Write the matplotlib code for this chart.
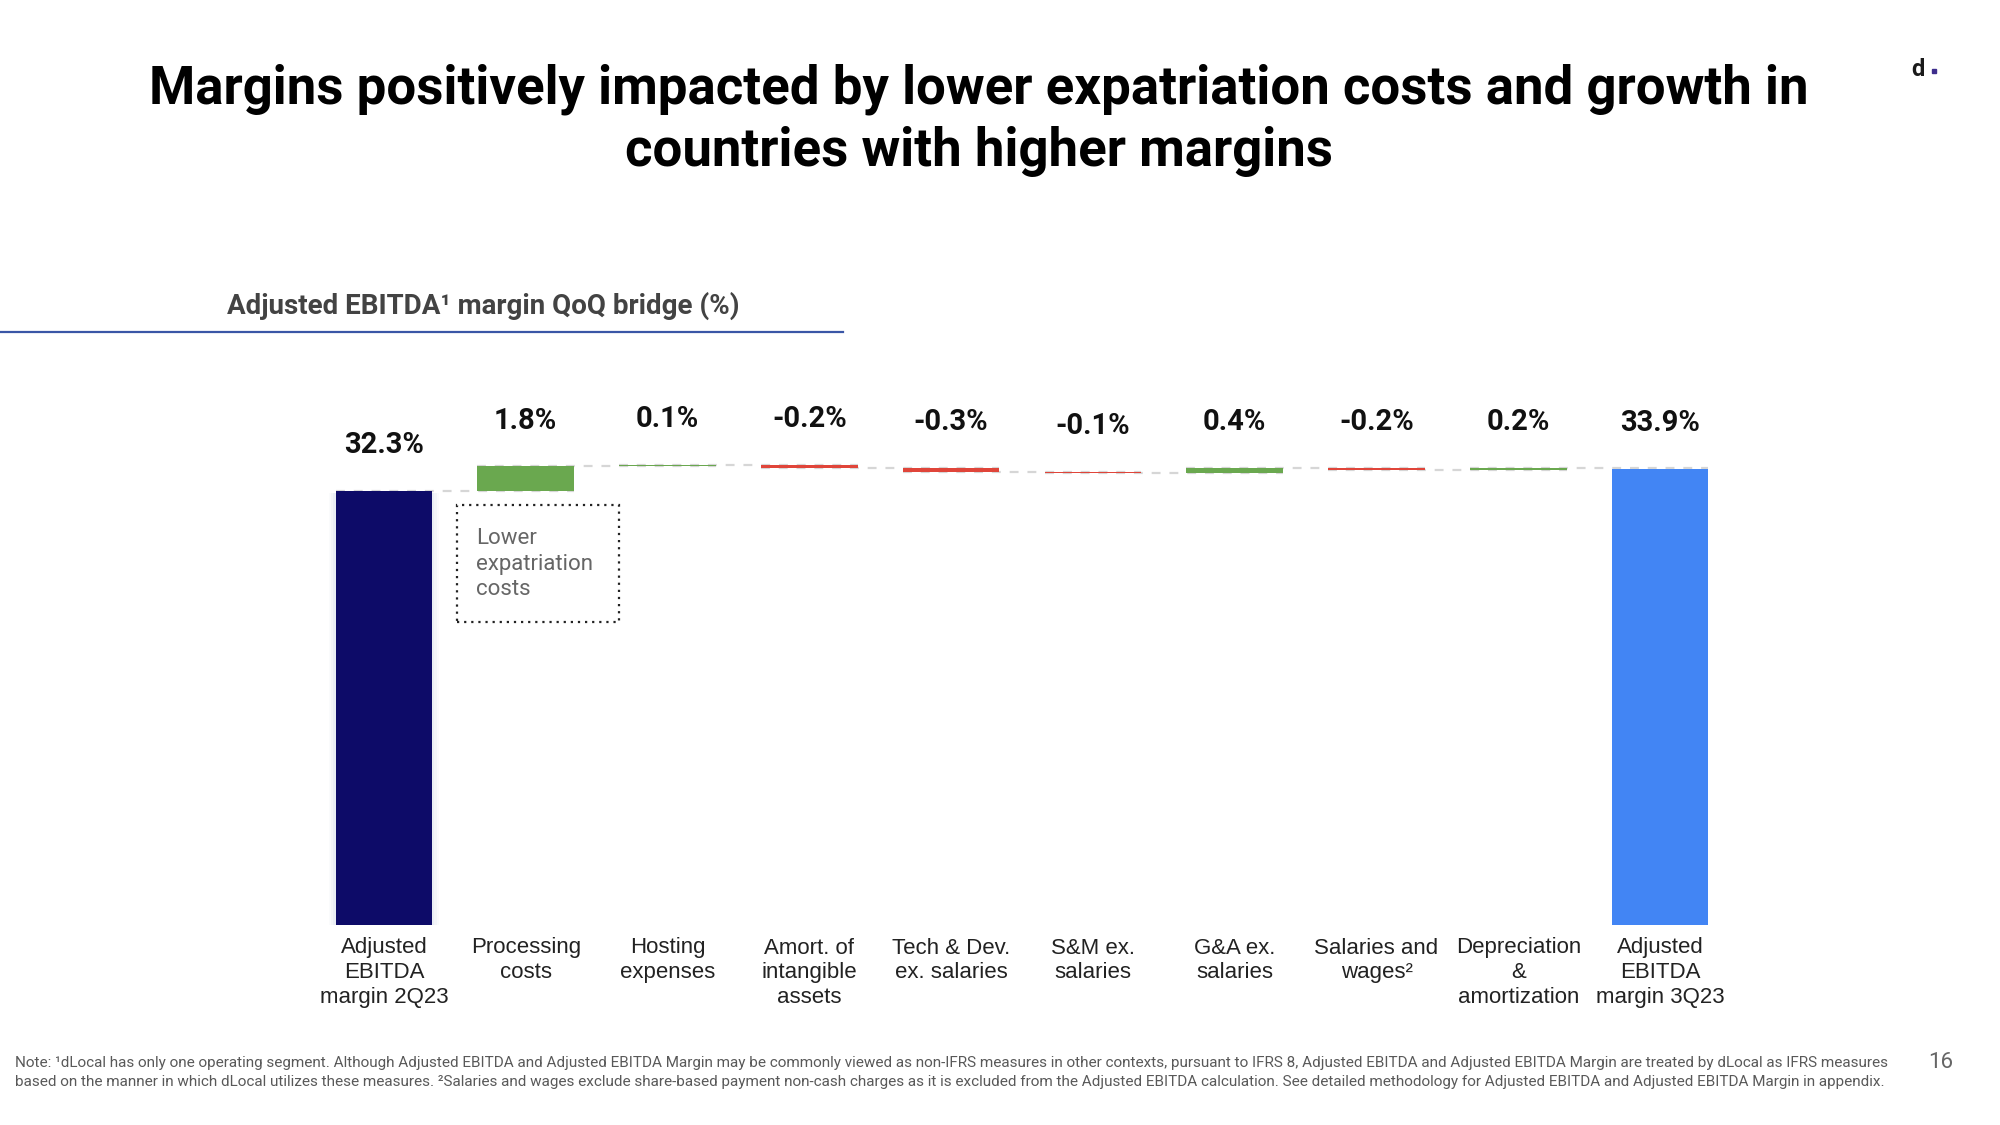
import numpy as np
import matplotlib
matplotlib.use('Agg')
import matplotlib.pyplot as plt
from matplotlib.patches import Rectangle
from matplotlib.lines import Line2D

# chart data
categories = ['Adjusted\nEBITDA\nmargin 2Q23', 'Processing\ncosts', 'Hosting\nexpenses',
              'Amort. of\nintangible\nassets', 'Tech & Dev.\nex. salaries', 'S&M ex.\nsalaries',
              'G&A ex.\nsalaries', 'Salaries and\nwages²', 'Depreciation\n&\namortization',
              'Adjusted\nEBITDA\nmargin 3Q23']
start_margin = 32.3
end_margin = 33.9
deltas = [1.8, 0.1, -0.2, -0.3, -0.1, 0.4, -0.2, 0.2]

navy = '#0d0b68'
green = '#6aa84f'
red = '#e0453a'
blue = '#4285f4'

W, H = 2000, 1125
fig = plt.figure(figsize=(20, 11.25), dpi=100)

def fx(px):
    return px / W

def fy(py):
    return 1 - py / H

# axes placed so that the bars land where they are on the slide
ax_left, ax_right = 313, 1731
ax_bottom, ax_top = 925, 925 - 36 * 13.45
ax = fig.add_axes([fx(ax_left), fy(ax_bottom), fx(ax_right - ax_left), (ax_bottom - ax_top) / H])
ax.set_xlim(-0.5, 9.5)
ax.set_ylim(0, 36)
for s in ax.spines.values():
    s.set_visible(False)
ax.set_yticks([])

x = np.arange(len(categories))
width = 0.68

# waterfall levels
levels = [start_margin]
for d in deltas:
    levels.append(levels[-1] + d)
bottoms = [0]
heights = [start_margin]
colors = [navy]
for i, d in enumerate(deltas):
    bottoms.append(min(levels[i], levels[i + 1]))
    heights.append(abs(d))
    colors.append(green if d > 0 else red)
bottoms.append(0)
heights.append(end_margin)
colors.append(blue)

# soft shadow around first bar
for k, a in zip([0.12, 0.08, 0.04], [0.04, 0.06, 0.08]):
    ax.add_patch(Rectangle((x[0] - width / 2 - k * 0.4, -0.5), width + k * 0.8, start_margin + 0.3,
                           facecolor='#8c9cc8', alpha=a, edgecolor='none', zorder=1))

ax.bar(x, heights, width, bottom=bottoms, color=colors, zorder=3, linewidth=0)

# dashed connectors
conn = levels + [end_margin]
for i in range(len(categories) - 1):
    ax.plot([x[i] - width / 2, x[i + 1] + width / 2], [conn[i], conn[i]],
            color='#d6d6d6', lw=1.6, ls=(0, (4, 4)), zorder=2)

# value labels
labels = ['%.1f%%' % start_margin] + ['%.1f%%' % d for d in deltas] + ['%.1f%%' % end_margin]
for i in range(len(categories)):
    top = bottoms[i] + heights[i]
    ax.annotate(labels[i], (x[i], top), xytext=(0, 33), textcoords='offset points',
                ha='center', va='center', fontsize=21, fontweight='bold',
                family='Roboto', color='#111111', annotation_clip=False)

ax.set_xticks(x)
ax.set_xticklabels(categories, fontsize=16, family='Liberation Sans', color='#222222',
                   linespacing=1.22)
ax.tick_params(axis='x', length=0, pad=9)

# annotation box
ax.add_patch(Rectangle((0.515, 22.5), 1.143, 8.7, fill=False, edgecolor='#222222',
                       ls=(0, (1, 2.2)), lw=1.6, zorder=4, clip_on=False))
ax.text(0.65, 26.84, 'Lower\nexpatriation\ncosts', fontsize=16, family='Roboto',
        color='#666666', va='center', ha='left', linespacing=1.3)

# title and headings
fig.text(fx(979), fy(120), 'Margins positively impacted by lower expatriation costs and growth in\ncountries with higher margins',
         ha='center', va='center', fontsize=38, fontweight='bold', family='Roboto',
         color='#000000', linespacing=1.27)
fig.text(fx(227), fy(306), 'Adjusted EBITDA¹ margin QoQ bridge (%)', ha='left', va='center',
         fontsize=20, fontweight='bold', family='Roboto', color='#434343')
fig.add_artist(Line2D([0, fx(843)], [fy(332), fy(332)], color='#3a56a6', lw=1.6))

# footnote
fig.text(fx(15), fy(1072.5),
         'Note: ¹dLocal has only one operating segment. Although Adjusted EBITDA and Adjusted EBITDA Margin may be commonly viewed as non-IFRS measures in other contexts, pursuant to IFRS 8, Adjusted EBITDA and Adjusted EBITDA Margin are treated by dLocal as IFRS measures\n'
         'based on the manner in which dLocal utilizes these measures. ²Salaries and wages exclude share-based payment non-cash charges as it is excluded from the Adjusted EBITDA calculation. See detailed methodology for Adjusted EBITDA and Adjusted EBITDA Margin in appendix.',
         ha='left', va='center', fontsize=10.95, family='Roboto', color='#595959', linespacing=1.4)
fig.text(fx(1941), fy(1062), '16', ha='center', va='center', fontsize=16, family='Roboto', color='#666666')

# logo
fig.text(fx(1918), fy(70), 'd', ha='center', va='center', fontsize=17, fontweight='bold',
         family='Roboto', color='#1a1a1a')
fig.add_artist(Line2D([fx(1934)], [fy(71)], marker='s', markersize=2.5, color='#3d2d8c', lw=0))

fig.savefig('out.png', dpi=100)
